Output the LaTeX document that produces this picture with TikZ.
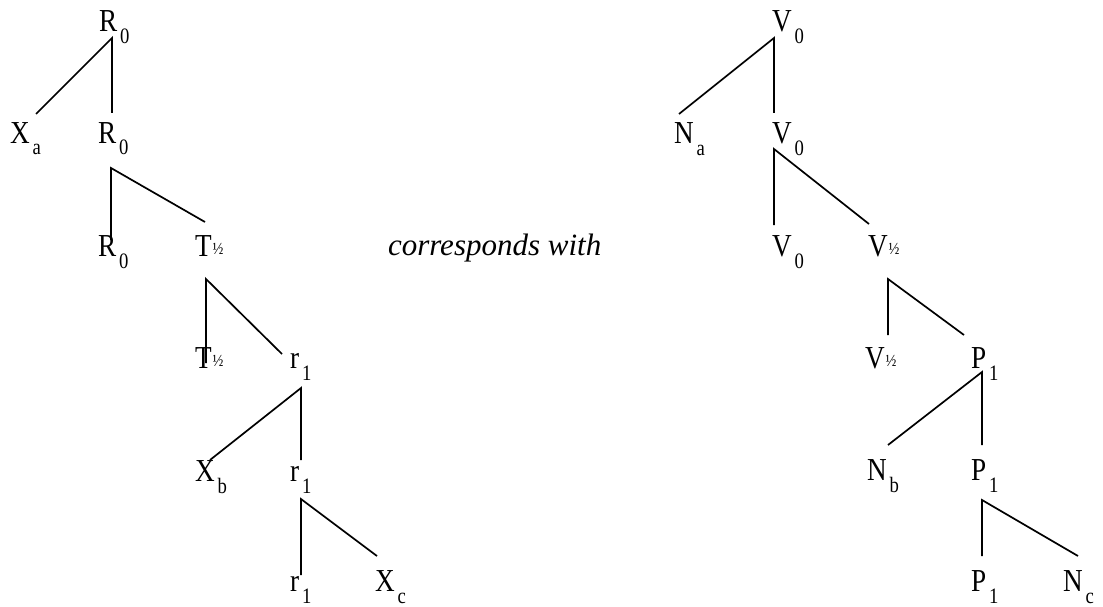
\documentclass[tikz,border=0pt]{standalone}
\usepackage{fontspec}
\setmainfont{Liberation Serif}
\newfontfamily\labfont{Liberation Serif}
\newcommand\tlab[2]{\scalebox{0.85}[1]{\fontsize{32}{32}\selectfont\labfont #1}\kern3pt\raisebox{-12pt}{\scalebox{0.85}[1]{\fontsize{22}{22}\selectfont\labfont #2}}}
\newcommand\thalf[1]{\scalebox{0.85}[1]{\fontsize{32}{32}\selectfont\labfont #1}\kern1pt\raisebox{2pt}{\scalebox{0.85}[1]{\fontsize{17}{17}\selectfont\labfont ½}}}
\tikzset{
  lab/.style={inner sep=0pt, outer sep=0pt, anchor=base west},
  edge/.style={line width=1.7pt, line cap=butt},
}
\begin{document}
\begin{tikzpicture}[x=1pt,y=-1pt]
\useasboundingbox (0,0) rectangle (1103,607);
% ---------- left tree ----------
\node[lab] (l1)  at (99,32)  {\tlab{R}{0}};
\node[lab] (l2a) at (10,143) {\tlab{X}{a}};
\node[lab] (l2b) at (98,143) {\tlab{R}{0}};
\node[lab] (l3a) at (98,256) {\tlab{R}{0}};
\node[lab] (l3b) at (195,256) {\thalf{T}};
\node[lab] (l4a) at (195,368) {\thalf{T}};
\node[lab] (l4b) at (290,368) {\tlab{r}{1}};
\node[lab] (l5a) at (195,481) {\tlab{X}{b}};
\node[lab] (l5b) at (290,481) {\tlab{r}{1}};
\node[lab] (l6a) at (290,591) {\tlab{r}{1}};
\node[lab] (l6b) at (375,591) {\tlab{X}{c}};
% connector end points
\coordinate (l1d)  at (112,38);
\coordinate (l2au) at (36,114);
\coordinate (l2bu) at (112,113);
\coordinate (l2d)  at (111,168);
\coordinate (l3au) at (111,240);
\coordinate (l3bu) at (205,222);
\coordinate (l3d)  at (206,279);
\coordinate (l4au) at (206,363);
\coordinate (l4bu) at (282,354);
\coordinate (l4d)  at (301,388);
\coordinate (l5au) at (210,460);
\coordinate (l5bu) at (301,460);
\coordinate (l5d)  at (301,499);
\coordinate (l6au) at (301,575);
\coordinate (l6bu) at (377,556);
\draw[edge] (l2au) -- (l1d) -- (l2bu);
\draw[edge] (l3au) -- (l2d) -- (l3bu);
\draw[edge] (l4au) -- (l3d) -- (l4bu);
\draw[edge] (l5au) -- (l4d) -- (l5bu);
\draw[edge] (l6au) -- (l5d) -- (l6bu);
% ---------- middle text ----------
\node[lab] (mid) at (388,255) {\fontsize{31}{31}\selectfont\itshape corresponds with};
% ---------- right tree ----------
\node[lab] (r1)  at (772,32)  {\tlab{V}{0}};
\node[lab] (r2a) at (674,144) {\tlab{N}{a}};
\node[lab] (r2b) at (772,144) {\tlab{V}{0}};
\node[lab] (r3a) at (772,256) {\tlab{V}{0}};
\node[lab] (r3b) at (868,256) {\thalf{V}};
\node[lab] (r4a) at (865,368) {\thalf{V}};
\node[lab] (r4b) at (971,368) {\tlab{P}{1}};
\node[lab] (r5a) at (867,480) {\tlab{N}{b}};
\node[lab] (r5b) at (971,480) {\tlab{P}{1}};
\node[lab] (r6a) at (971,591) {\tlab{P}{1}};
\node[lab] (r6b) at (1063,591) {\tlab{N}{c}};
\coordinate (r1d)  at (774,38);
\coordinate (r2au) at (679,114);
\coordinate (r2bu) at (774,113);
\coordinate (r2d)  at (774,149);
\coordinate (r3au) at (774,225);
\coordinate (r3bu) at (869,224);
\coordinate (r3d)  at (888,279);
\coordinate (r4au) at (888,335);
\coordinate (r4bu) at (964,335);
\coordinate (r4d)  at (982,372);
\coordinate (r5au) at (888,445);
\coordinate (r5bu) at (982,445);
\coordinate (r5d)  at (982,500);
\coordinate (r6au) at (982,556);
\coordinate (r6bu) at (1078,556);
\draw[edge] (r2au) -- (r1d) -- (r2bu);
\draw[edge] (r3au) -- (r2d) -- (r3bu);
\draw[edge] (r4au) -- (r3d) -- (r4bu);
\draw[edge] (r5au) -- (r4d) -- (r5bu);
\draw[edge] (r6au) -- (r5d) -- (r6bu);
\end{tikzpicture}
\end{document}
